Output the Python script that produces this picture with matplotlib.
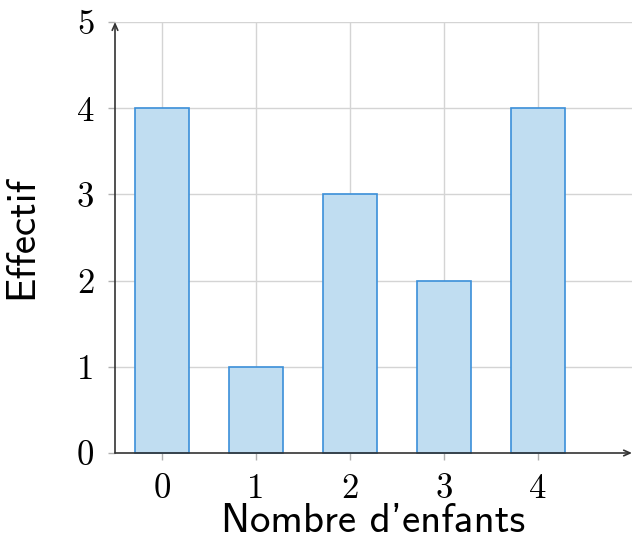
import os
import matplotlib
matplotlib.use("Agg")
import matplotlib.pyplot as plt
from matplotlib.font_manager import FontProperties

categories = [0, 1, 2, 3, 4]
values = [4, 1, 3, 2, 4]
yticks = [0, 1, 2, 3, 4, 5]
xlabel = "Nombre d'enfants"
ylabel = "Effectif"

ttf = os.path.join(matplotlib.get_data_path(), "fonts", "ttf")
fp_num = FontProperties(fname=os.path.join(ttf, "cmr10.ttf"), size=25)
fp_lab = FontProperties(fname=os.path.join(ttf, "cmss10.ttf"), size=29.5)

fig = plt.figure(figsize=(6.32, 5.37), dpi=100)
ax = fig.add_axes([115/632, 84/537, 517/632, 431/537])

ax.set_xlim(-0.5, 5.0)
ax.set_ylim(0, 5)

ax.bar(categories, values, width=0.57, color="#c0ddf1", edgecolor="#3b8fd9",
       linewidth=1.2, zorder=3, clip_on=False)

grid_c = "#d4d4d4"
for c in categories:
    ax.plot([c, c], [0, 5], color=grid_c, lw=1.0, zorder=1)
for y in yticks[1:]:
    ax.axhline(y, color=grid_c, lw=1.0, zorder=1)

for s in ax.spines.values():
    s.set_visible(False)

ax.set_xticks(categories)
ax.set_yticks(yticks)
ax.set_xticklabels([str(c) for c in categories], fontproperties=fp_num)
ax.set_yticklabels([str(y) for y in yticks], fontproperties=fp_num)
ax.tick_params(axis="both", direction="out", length=5, width=1.0, color="#b0b0b0")
ax.tick_params(axis="x", pad=10)
ax.tick_params(axis="y", pad=10)

arrow = dict(arrowstyle="->,head_length=0.45,head_width=0.2", color="#333333", lw=1.2,
             shrinkA=0, shrinkB=0)
ax.annotate("", xy=(5.0, 0), xytext=(-0.5, 0), arrowprops=arrow, annotation_clip=False, zorder=4)
ax.annotate("", xy=(-0.5, 5), xytext=(-0.5, 0), arrowprops=arrow, annotation_clip=False, zorder=4)

ax.set_xlabel(xlabel, fontproperties=fp_lab, labelpad=-1.5)
ax.set_ylabel(ylabel, fontproperties=fp_lab, labelpad=26)

fig.savefig("out.png", dpi=100)
